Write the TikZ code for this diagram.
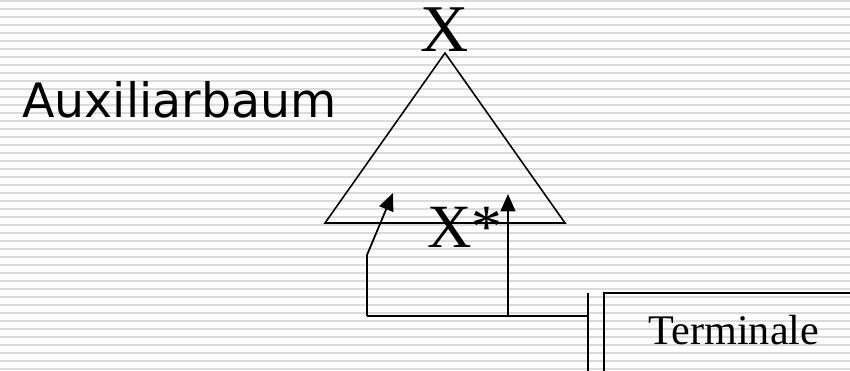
\documentclass[tikz,border=0pt]{standalone}
\usepackage{fontspec}
\setmainfont{Liberation Serif}
\newfontfamily\labelfont{DejaVu Sans}
\usetikzlibrary{arrows.meta, positioning}
\definecolor{stripegray}{RGB}{219, 219, 219}

\begin{document}
\begin{tikzpicture}[
    x=0.02cm, y=-0.02cm,
    stripe/.style={draw=stripegray, line width=1.1pt},
    treeline/.style={draw=black, line width=0.9pt},
    boxline/.style={draw=black, line width=1.1pt},
    link/.style={draw=black, line width=1pt, -{Triangle[length=0.35cm, width=0.3cm]}},
    serifbig/.style={inner sep=0pt, anchor=base, font=\fontsize{38}{40}\selectfont},
    serifmid/.style={inner sep=0pt, anchor=base, font=\fontsize{35}{38}\selectfont},
    seriflabel/.style={inner sep=0pt, anchor=base, font=\fontsize{24}{28}\selectfont},
    titlelabel/.style={inner sep=0pt, anchor=base west, font=\labelfont\fontsize{27}{30}\selectfont}
]
    \useasboundingbox (0,0) rectangle (850,371);
    \fill[white] (0,0) rectangle (850,371);
    % striped background
    \foreach \k in {0,...,46}
        \draw[stripe] (0,{0.7+8*\k}) -- (850,{0.7+8*\k});

    % the auxiliary tree
    \coordinate (apex) at (445,53);
    \coordinate (baseL) at (325,223);
    \coordinate (baseR) at (565,223);
    \draw[treeline] (apex) -- (baseL) -- (baseR) -- cycle;

    \node[titlelabel] (title) at (22,118) {Auxiliarbaum};
    \node[serifbig] (root) at (445,52) {X};
    \node[serifmid] (foot) at (465,248) {X*};

    % terminal box with its bar
    \coordinate (barT) at (588,293);
    \coordinate (barB) at (588,375);
    \draw[boxline] (barT) -- (barB);
    \coordinate (boxTR) at (860,293);
    \coordinate (boxTL) at (604,293);
    \coordinate (boxBL) at (604,375);
    \draw[boxline] (boxTR) -- (boxTL) -- (boxBL);
    \node[seriflabel] (term) at (734,345) {Terminale};

    % connectors up into the foot
    \coordinate (jn) at (588,316);
    \coordinate (kneeL) at (367,316);
    \coordinate (bendL) at (367,255);
    \coordinate (tipL) at (393,193);
    \coordinate (kneeR) at (508,316);
    \coordinate (tipR) at (508,194);
    \draw[treeline] (jn) -- (kneeL);
    \draw[link] (kneeL) -- (bendL) -- (tipL);
    \draw[link] (kneeR) -- (tipR);
\end{tikzpicture}
\end{document}
